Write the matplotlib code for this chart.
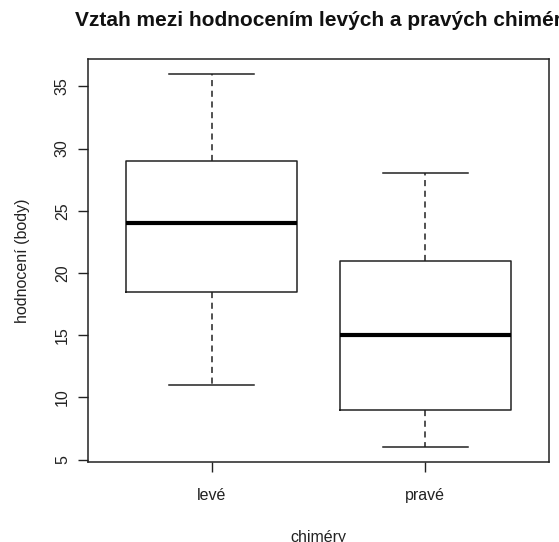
import matplotlib.pyplot as plt

plt.rcParams['font.family'] = ['Liberation Sans', 'DejaVu Sans']

groups = ['levé', 'pravé']
# five-number summaries: min, Q1, median, Q3, max
mins = [11, 6]
q1s = [18.5, 9]
medians = [24, 15]
q3s = [29, 21]
maxs = [36, 28]
yticks = [5, 10, 15, 20, 25, 30, 35]

stats = []
for g, lo, a, m, b, hi in zip(groups, mins, q1s, medians, q3s, maxs):
    stats.append({'label': g, 'whislo': lo, 'q1': a, 'med': m, 'q3': b, 'whishi': hi, 'fliers': []})

fig = plt.figure(figsize=(5.59, 5.42), dpi=100)
ax = fig.add_axes([88 / 559, 1 - 462 / 542, (549 - 88) / 559, (462 - 59) / 542])

ax.bxp(stats, positions=[1, 2], widths=0.8, showfliers=False,
       boxprops=dict(color='#222222', lw=1.1),
       whiskerprops=dict(color='#222222', lw=1.1, linestyle=(0, (4, 3))),
       capprops=dict(color='#222222', lw=1.1),
       medianprops=dict(color='black', lw=3.0),
       capwidths=0.4)

ax.set_xlim(0.42, 2.58)
ax.set_ylim(4.8, 37.2)
ax.set_yticks(yticks)
ax.set_yticklabels([str(t) for t in yticks], rotation=90, va='center')
ax.set_xticks([1, 2])
ax.set_xticklabels(groups)
ax.tick_params(axis='both', direction='out', length=7, width=1, colors='#222222',
               labelsize=11.5, labelcolor='#222222')
ax.tick_params(axis='y', pad=6)
ax.tick_params(axis='x', pad=12)
for s in ax.spines.values():
    s.set_color('#222222')
    s.set_linewidth(1.1)

ax.set_xlabel('chiméry', fontsize=11.5, color='#222222', labelpad=19)
ax.set_ylabel('hodnocení (body)', fontsize=11.5, color='#222222', labelpad=18)
fig.text((88 + 549) / 2 / 559, 1 - 21 / 542, 'Vztah mezi hodnocením levých a pravých chimér',
         ha='center', va='center', fontsize=15, fontweight='bold', color='#111111')

fig.savefig('out.png', dpi=100)
